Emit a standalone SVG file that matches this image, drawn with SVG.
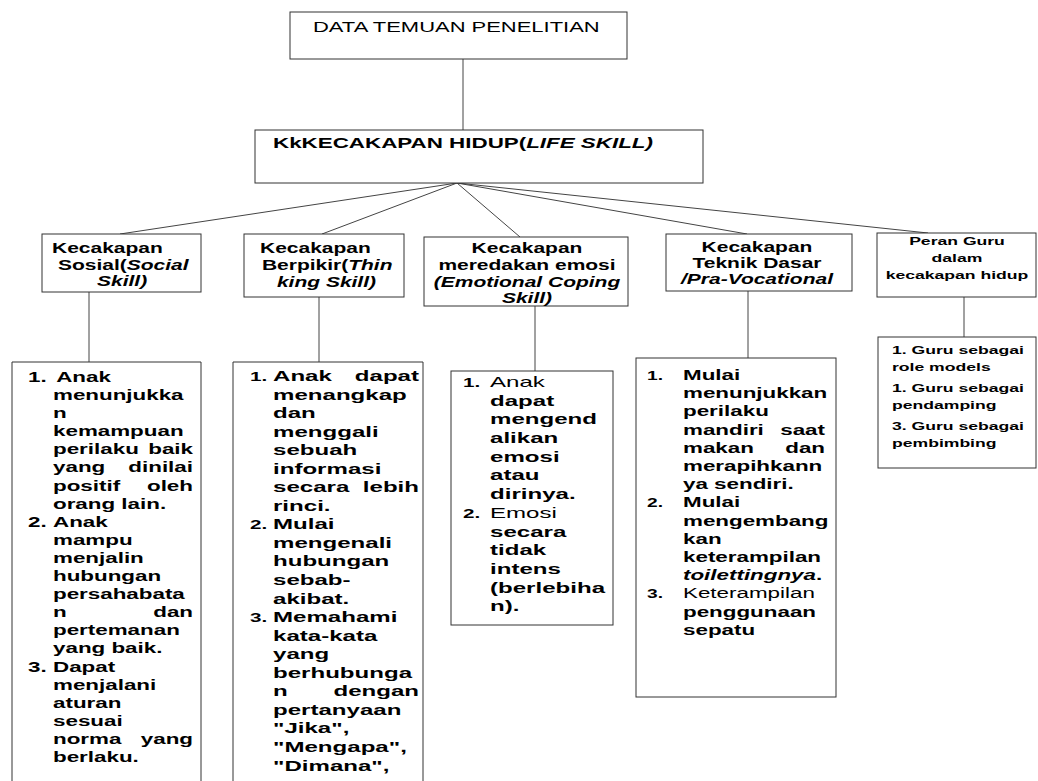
<svg xmlns="http://www.w3.org/2000/svg" width="1038" height="781" viewBox="0 0 1038 781">
<style>
text{font-family:"Liberation Sans",Arial,sans-serif;font-size:14px;fill:#000}
.b{font-weight:bold}
.i{font-style:italic}
.e{text-anchor:end}
.m{text-anchor:middle}
.s{font-size:11px;font-weight:bold}
.n{font-size:12px;font-weight:bold}
.box{fill:#fff;stroke:#333;stroke-width:1}
.open{fill:none;stroke:#333;stroke-width:1}
.con line{stroke:#444;stroke-width:1}
</style>
<rect width="1038" height="781" fill="#fff"/>

<g id="connectors" class="con">
<line x1="463" y1="59" x2="463" y2="130"/>
<line x1="457" y1="183" x2="120" y2="234"/>
<line x1="457" y1="183" x2="322" y2="234"/>
<line x1="457" y1="183" x2="520" y2="237"/>
<line x1="457" y1="183" x2="747" y2="234"/>
<line x1="457" y1="183" x2="928" y2="233"/>
<line x1="89" y1="292" x2="89" y2="362"/>
<line x1="319" y1="297" x2="319" y2="362"/>
<line x1="535" y1="306" x2="535" y2="371"/>
<line x1="748" y1="291" x2="748" y2="358"/>
<line x1="964" y1="285" x2="964" y2="337"/>
</g>

<g id="title">
<rect class="box" x="290" y="12" width="337" height="47"/>
<text transform="translate(313,32) scale(1.57,1)">DATA TEMUAN PENELITIAN</text>
</g>

<g id="lifeskill">
<rect class="box" x="255" y="130" width="448" height="53"/>
<text class="b" transform="translate(273,148) scale(1.6,1)">KkKECAKAPAN HIDUP(<tspan class="i">LIFE SKILL)</tspan></text>
</g>

<g id="h-social">
<rect class="box" x="42" y="234" width="159" height="58"/>
<g transform="translate(52,0) scale(1.5,1)">
<text class="b" x="0" y="253">Kecakapan</text>
<text class="b" x="4" y="270">Sosial(<tspan class="i">Social</tspan></text>
<text class="b i" x="30" y="286">Skill)</text>
</g>
</g>

<g id="h-thinking">
<rect class="box" x="244" y="234" width="160" height="63"/>
<g transform="translate(260,0) scale(1.5,1)">
<text class="b" x="0" y="253">Kecakapan</text>
<text class="b" x="1.3" y="270">Berpikir(<tspan class="i">Thin</tspan></text>
<text class="b i" x="11.3" y="287">king Skill)</text>
</g>
</g>

<g id="h-emotion">
<rect class="box" x="424" y="237" width="204" height="69"/>
<g transform="translate(527,0) scale(1.5,1)">
<text class="b m" x="0" y="253">Kecakapan</text>
<text class="b m" x="0" y="270">meredakan emosi</text>
<text class="b i m" x="0" y="287">(Emotional Coping</text>
<text class="b i m" x="0" y="303">Skill)</text>
</g>
</g>

<g id="h-vocational">
<rect class="box" x="666" y="234" width="186" height="57"/>
<g transform="translate(757,0) scale(1.5,1)">
<text class="b m" x="0" y="252">Kecakapan</text>
<text class="b m" x="0" y="268">Teknik Dasar</text>
<text class="b i m" x="0" y="284">/Pra-Vocational</text>
</g>
</g>

<g id="h-guru">
<rect class="box" x="877" y="233" width="159" height="64"/>
<g transform="translate(957,0) scale(1.6,1)">
<text class="s m" x="0" y="245">Peran Guru</text>
<text class="s m" x="0" y="262">dalam</text>
<text class="s m" x="0" y="279">kecakapan hidup</text>
</g>
</g>

<g id="d-social">
<path class="open" d="M12,781 V362 H201 V781"/>
<g transform="translate(53,0) scale(1.6,1)">
<text class="b" x="-15.6" y="382">1.</text><text class="b" x="2" y="382">Anak</text>
<text class="b" x="0" y="400.1">menunjukka</text>
<text class="b" x="0" y="418.2">n</text>
<text class="b" x="0" y="436.3">kemampuan</text>
<text class="b" x="0" y="454.4">perilaku</text><text class="b e" x="87.5" y="454.4">baik</text>
<text class="b" x="0" y="472.5">yang</text><text class="b e" x="87.5" y="472.5">dinilai</text>
<text class="b" x="0" y="490.6">positif</text><text class="b e" x="87.5" y="490.6">oleh</text>
<text class="b" x="0" y="508.7">orang lain.</text>
<text class="b" x="-15.6" y="526.8">2.</text><text class="b" x="0" y="526.8">Anak</text>
<text class="b" x="0" y="544.9">mampu</text>
<text class="b" x="0" y="563">menjalin</text>
<text class="b" x="0" y="581.1">hubungan</text>
<text class="b" x="0" y="599.2">persahabata</text>
<text class="b" x="0" y="617.3">n</text><text class="b e" x="87.5" y="617.3">dan</text>
<text class="b" x="0" y="635.4">pertemanan</text>
<text class="b" x="0" y="653.5">yang baik.</text>
<text class="b" x="-15.6" y="671.6">3.</text><text class="b" x="0" y="671.6">Dapat</text>
<text class="b" x="0" y="689.7">menjalani</text>
<text class="b" x="0" y="707.8">aturan</text>
<text class="b" x="0" y="725.9">sesuai</text>
<text class="b" x="0" y="744">norma</text><text class="b e" x="87.5" y="744">yang</text>
<text class="b" x="0" y="762.1">berlaku.</text>
</g>
</g>

<g id="d-thinking">
<path class="open" d="M233,781 V362 H423 V781"/>
<g transform="translate(273,0) scale(1.72,1)">
<text class="n" x="-13.4" y="381">1.</text><text class="b" x="0" y="381">Anak</text><text class="b e" x="84.9" y="381">dapat</text>
<text class="b" x="0" y="399.6">menangkap</text>
<text class="b" x="0" y="418.1">dan</text>
<text class="b" x="0" y="436.7">menggali</text>
<text class="b" x="0" y="455.2">sebuah</text>
<text class="b" x="0" y="473.8">informasi</text>
<text class="b" x="0" y="492.3">secara</text><text class="b e" x="84.9" y="492.3">lebih</text>
<text class="b" x="0" y="510.9">rinci.</text>
<text class="n" x="-13.4" y="529.4">2.</text><text class="b" x="0" y="529.4">Mulai</text>
<text class="b" x="0" y="548">mengenali</text>
<text class="b" x="0" y="566.5">hubungan</text>
<text class="b" x="0" y="585.1">sebab-</text>
<text class="b" x="0" y="603.6">akibat.</text>
<text class="n" x="-13.4" y="622.2">3.</text><text class="b" x="0" y="622.2">Memahami</text>
<text class="b" x="0" y="640.7">kata-kata</text>
<text class="b" x="0" y="659.3">yang</text>
<text class="b" x="0" y="677.8">berhubunga</text>
<text class="b" x="0" y="696.4">n</text><text class="b e" x="84.9" y="696.4">dengan</text>
<text class="b" x="0" y="714.9">pertanyaan</text>
<text class="b" x="0" y="733.5">"Jika",</text>
<text class="b" x="0" y="752">"Mengapa",</text>
<text class="b" x="0" y="770.6">"Dimana",</text>
</g>
</g>

<g id="d-emotion">
<rect class="box" x="451" y="371" width="162" height="254"/>
<g transform="translate(490,0) scale(1.72,1)">
<text class="n" x="-15.7" y="387">1.</text><text x="0" y="387">Anak</text>
<text class="b" x="0" y="405.7">dapat</text>
<text class="b" x="0" y="424.4">mengend</text>
<text class="b" x="0" y="443.1">alikan</text>
<text class="b" x="0" y="461.8">emosi</text>
<text class="b" x="0" y="480.5">atau</text>
<text class="b" x="0" y="499.2">dirinya.</text>
<text class="n" x="-15.7" y="517.9">2.</text><text x="0" y="517.9">Emosi</text>
<text class="b" x="0" y="536.6">secara</text>
<text class="b" x="0" y="555.3">tidak</text>
<text class="b" x="0" y="574">intens</text>
<text class="b" x="0" y="592.7">(berlebiha</text>
<text class="b" x="0" y="611.4">n).</text>
</g>
</g>

<g id="d-vocational">
<rect class="box" x="636" y="358" width="200" height="339"/>
<g transform="translate(683,0) scale(1.6,1)">
<text class="n" x="-22.5" y="380">1.</text><text class="b" x="0" y="380">Mulai</text>
<text class="b" x="0" y="398.2">menunjukkan</text>
<text class="b" x="0" y="416.4">perilaku</text>
<text class="b" x="0" y="434.6">mandiri</text><text class="b e" x="88.75" y="434.6">saat</text>
<text class="b" x="0" y="452.8">makan</text><text class="b e" x="88.75" y="452.8">dan</text>
<text class="b" x="0" y="471">merapihkann</text>
<text class="b" x="0" y="489.2">ya sendiri.</text>
<text class="n" x="-22.5" y="507.4">2.</text><text class="b" x="0" y="507.4">Mulai</text>
<text class="b" x="0" y="525.6">mengembang</text>
<text class="b" x="0" y="543.8">kan</text>
<text class="b" x="0" y="562">keterampilan</text>
<text class="b" x="0" y="580.2"><tspan class="i">toilettingnya</tspan>.</text>
<text class="n" x="-22.5" y="598.4">3.</text><text x="0" y="598.4">Keterampilan</text>
<text class="b" x="0" y="616.6">penggunaan</text>
<text class="b" x="0" y="634.8">sepatu</text>
</g>
</g>

<g id="d-guru">
<rect class="box" x="878" y="337" width="158" height="131"/>
<g transform="translate(892,0) scale(1.6,1)">
<text class="s" x="0" y="354">1. Guru sebagai</text>
<text class="s" x="0" y="371">role models</text>
<text class="s" x="0" y="392">1. Guru sebagai</text>
<text class="s" x="0" y="409">pendamping</text>
<text class="s" x="0" y="430">3. Guru sebagai</text>
<text class="s" x="0" y="447">pembimbing</text>
</g>
</g>
</svg>
